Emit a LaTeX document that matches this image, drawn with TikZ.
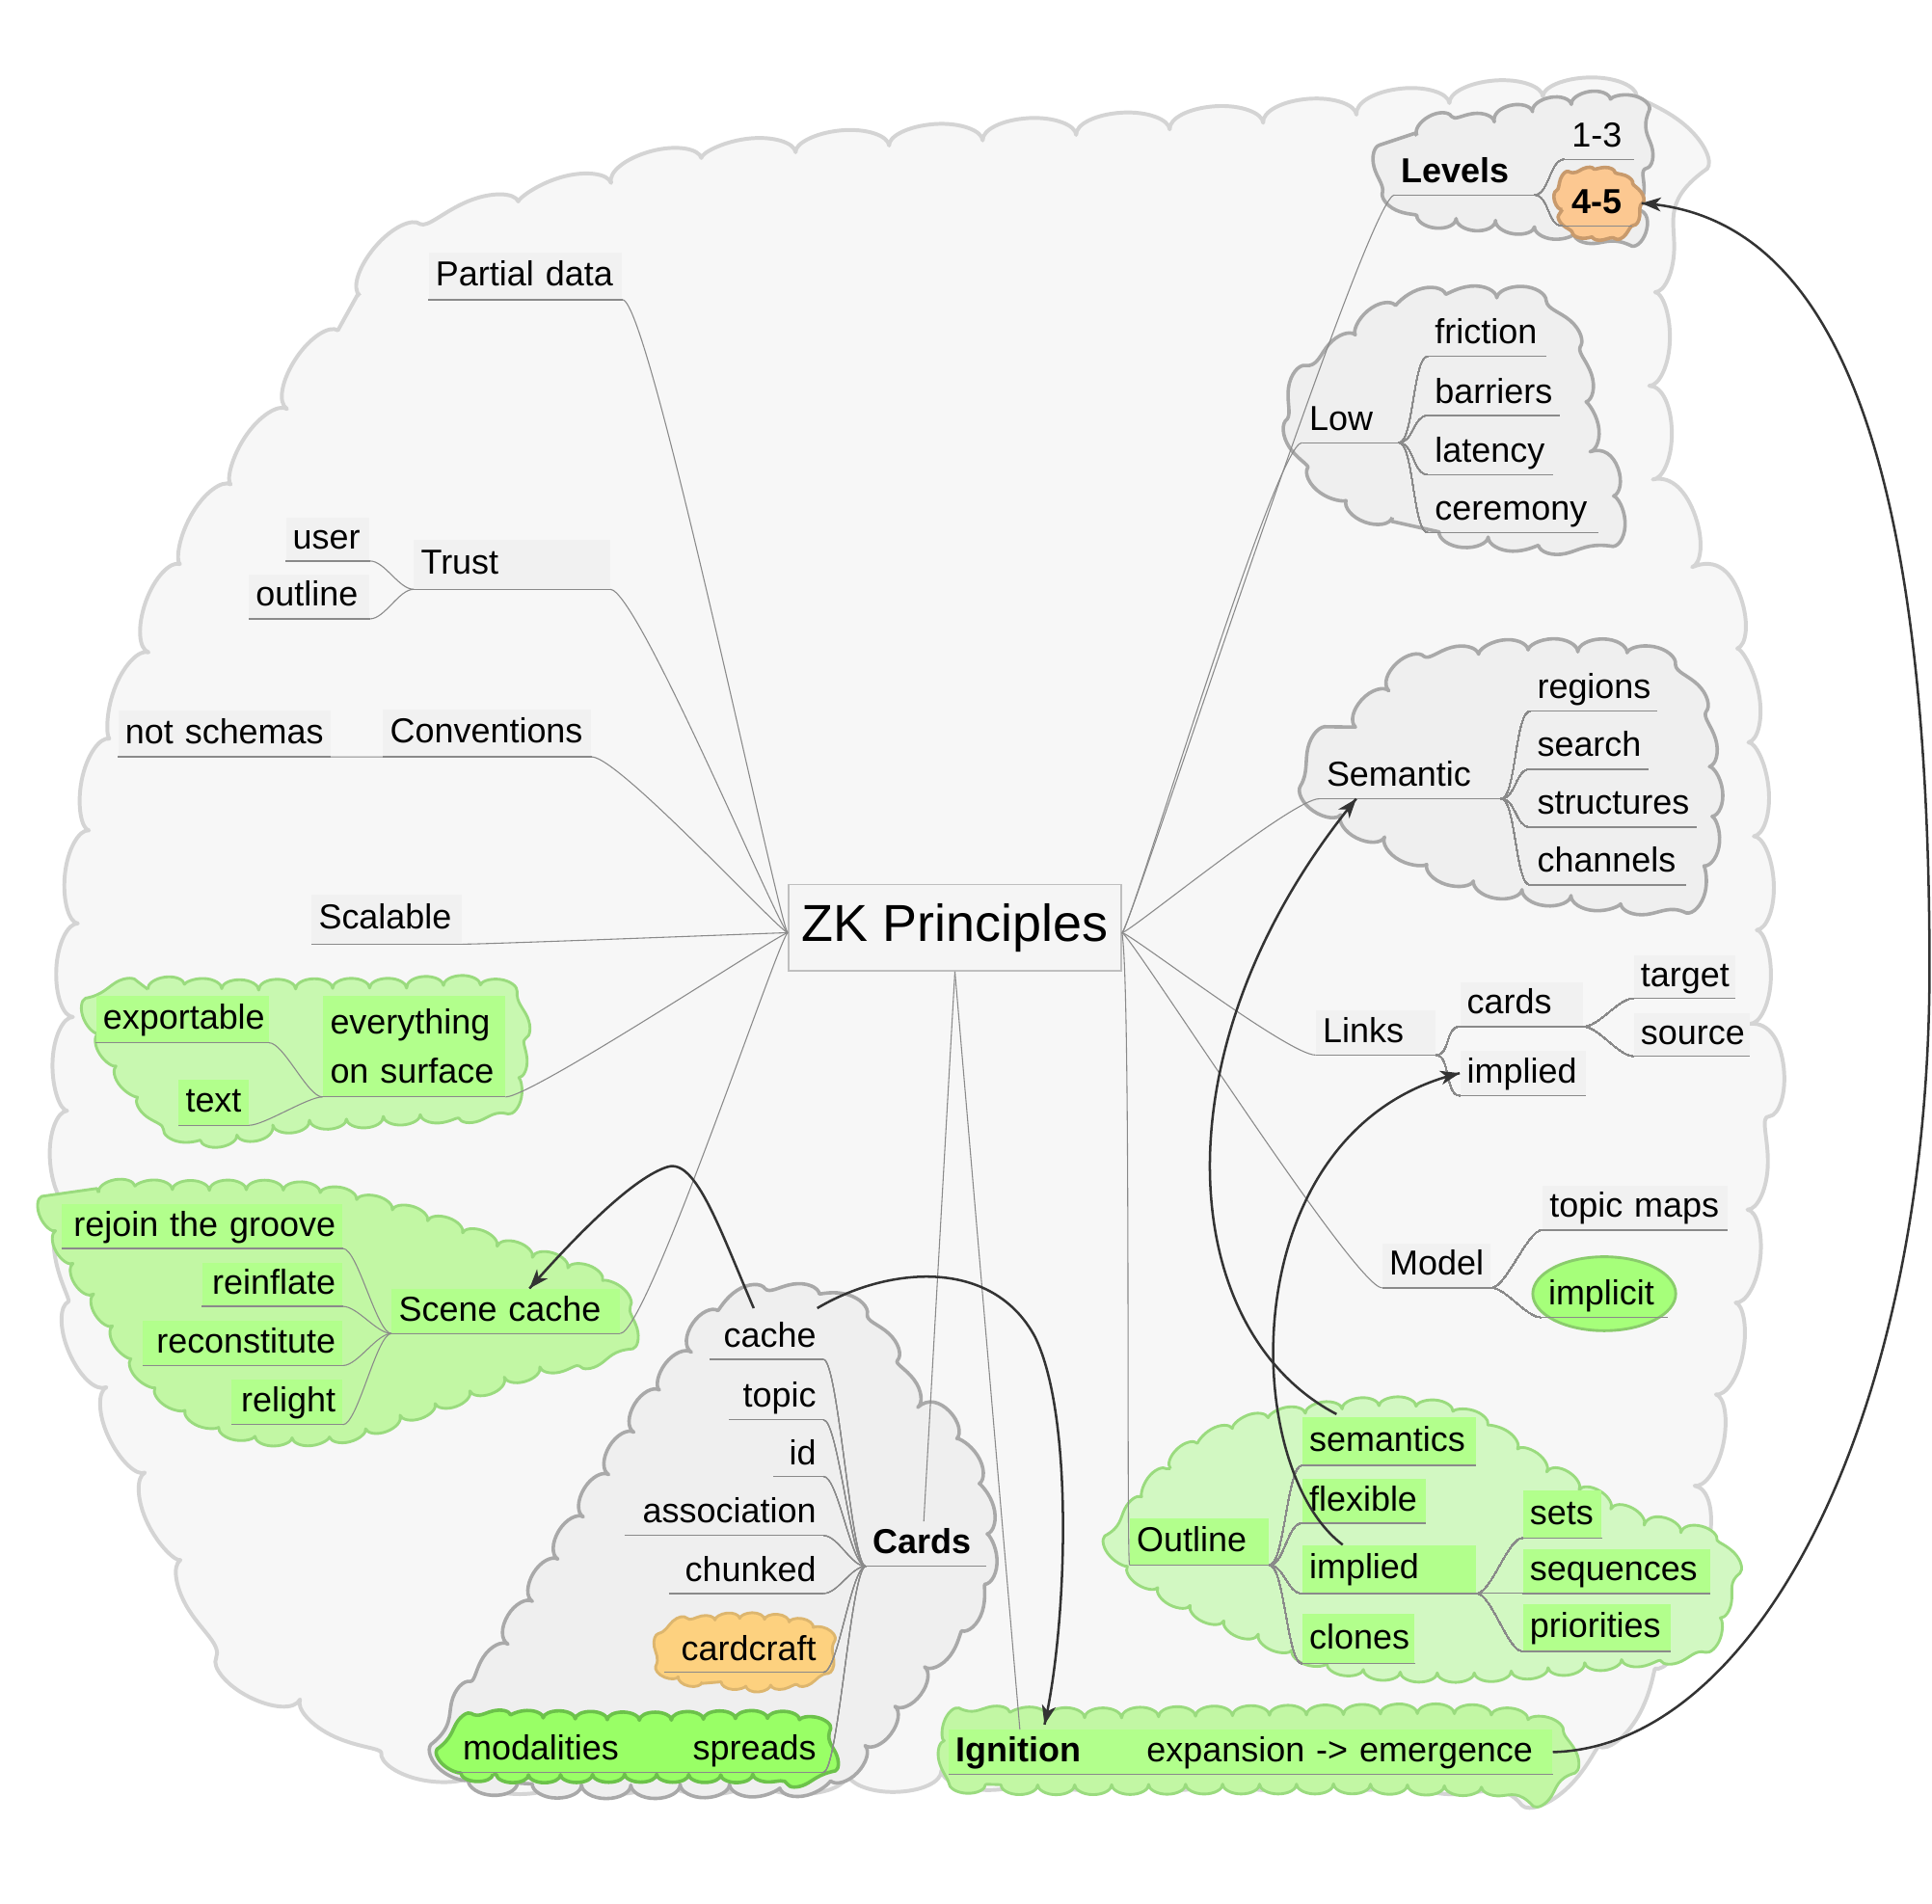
\documentclass[tikz,border=0pt]{standalone}
\usepackage{fontspec}
\setmainfont{Liberation Sans}
\usetikzlibrary{decorations.pathmorphing,calc}
\definecolor{cbigf}{HTML}{F7F7F7}
\definecolor{cbigd}{HTML}{D4D4D4}
\definecolor{cgreyf}{HTML}{EFEFEF}
\definecolor{cgreyd}{HTML}{A9A9A9}
\definecolor{cgreenf}{HTML}{C8F8B0}
\definecolor{cgreend}{HTML}{9ADB7E}
\definecolor{cscf}{HTML}{C2F7A4}
\definecolor{coutf}{HTML}{D2F8C2}
\definecolor{cmodf}{HTML}{99FF66}
\definecolor{cmodd}{HTML}{6CC24A}
\definecolor{cboxg}{HTML}{B2FF8C}
\definecolor{cboxgrey}{HTML}{F1F1F1}
\definecolor{corf}{HTML}{FCC891}
\definecolor{cord}{HTML}{C89A6C}
\definecolor{ccraftf}{HTML}{FDD17F}
\definecolor{ccraftd}{HTML}{DDB66E}
\definecolor{cline}{HTML}{8A8A8A}
\definecolor{carrow}{HTML}{333333}
\definecolor{cimpf}{HTML}{A6FF7A}
\definecolor{cimpd}{HTML}{8ACC6C}
\newcommand\fs{\fontsize{20}{24}\selectfont}
\tikzset{
  mmbox/.style={font=\fs, inner xsep=4pt, inner ysep=0pt, text height=14.5pt, text depth=3pt, fill=cboxgrey},
  nofill/.style={fill=none},
  gbox/.style={fill=cboxg},
  boldtxt/.style={font=\fs\bfseries},
  uline/.style={draw=cline, line width=0.7pt},
  conn/.style={draw=cline, line width=0.6pt},
  relline/.style={draw=carrow, line width=1.4pt},
  bigcloud/.style={fill=cbigf, draw=cbigd, line width=2.2pt, line join=round, decorate, decoration={bumps, segment length=3.8cm, amplitude=0.4cm}},
  greycloud/.style={fill=cgreyf, draw=cgreyd, line width=2pt, line join=round, decorate, decoration={bumps, segment length=2cm, amplitude=0.28cm}},
  greencloud/.style={fill=cgreenf, draw=cgreend, line width=1.6pt, line join=round, decorate, decoration={bumps, segment length=1.5cm, amplitude=0.2cm}},
}
\newcommand\mm[8][]{%
  \pgfmathsetmacro\mmw{(#5-#3)*0.025}%
  \pgfmathsetmacro\mmh{(#6-#4)*0.025}%
  \pgfmathsetmacro\mmtw{(#5-#3)*0.025*28.45274-8}%
  \node[mmbox, minimum width=\mmw cm, minimum height=\mmh cm, text width=\mmtw pt, align=#7, #1] (#2) at ({(#3+#5)/2},{(#4+#6)/2}) {\mbox{#8}};
  \draw[uline] (#2.south west) -- (#2.south east);
}
\newcommand\sig[2]{\draw[conn] (#1) .. controls +(12,0) and +(-12,0) .. (#2);}
\newcommand\sigl[2]{\draw[conn] (#1) .. controls +(-12,0) and +(12,0) .. (#2);}
% arrow tip: #1 = last control point, #2 = end point
\newcommand\tipat[2]{%
  \path (#1) coordinate (tipA) (#2) coordinate (tipB);
  \pgfmathanglebetweenpoints{\pgfpointanchor{tipA}{center}}{\pgfpointanchor{tipB}{center}}%
  \edef\tipang{\pgfmathresult}%
  \fill[carrow] (tipB) -- ($(tipB)+(\tipang+160:12pt)$) -- ($(tipB)+(\tipang+180:8pt)$) -- ($(tipB)+(\tipang+200:12pt)$) -- cycle;
}
\begin{document}
\begin{tikzpicture}[x=0.025cm, y=-0.025cm]
\useasboundingbox (0,0) rectangle (1568,1545);
\fill[white] (0,0) rectangle (1568,1545);
% big background cloud
\path[bigcloud] plot[smooth cycle, tension=0.6] coordinates {(250,305) (292,240) (340,198) (430,168) (530,140) (640,126) (770,116) (900,108) (1040,98) (1180,84) (1280,80) (1330,92) (1342,150) (1340,260) (1346,380) (1384,450) (1410,560) (1422,690) (1422,790) (1428,840) (1420,890) (1418,970) (1405,1060) (1385,1160) (1368,1260) (1343,1335) (1296,1405) (1240,1436) (1100,1437) (950,1437) (800,1437) (650,1440) (500,1440) (385,1436) (300,1405) (212,1360) (162,1285) (122,1200) (76,1100) (60,1000) (58,900) (64,760) (80,650) (110,560) (145,470) (198,385)};
% grey clouds
\path[greycloud, decoration={bumps, segment length=1.6cm, amplitude=0.22cm}] plot[smooth cycle, tension=0.6] coordinates {(1128,140) (1150,110) (1200,100) (1260,88) (1310,84) (1328,108) (1326,140) (1332,165) (1318,186) (1270,186) (1220,180) (1170,176) (1136,160)};
\path[greycloud] plot[smooth cycle, tension=0.6] coordinates {(1200,434) (1130,420) (1080,390) (1054,340) (1080,295) (1130,255) (1190,244) (1240,248) (1272,282) (1283,332) (1298,372) (1306,410) (1288,434)};
\path[greycloud] plot[smooth cycle, tension=0.6] coordinates {(1068,628) (1100,590) (1140,550) (1200,534) (1260,530) (1328,534) (1366,562) (1382,610) (1386,660) (1378,700) (1366,726) (1300,728) (1200,714) (1130,682) (1082,655)};
\path[greycloud] plot[smooth cycle, tension=0.6] coordinates {(560,1448) (420,1447) (378,1438) (374,1400) (402,1350) (432,1300) (462,1250) (492,1200) (522,1150) (550,1112) (572,1082) (600,1062) (660,1055) (700,1078) (722,1112) (760,1152) (788,1200) (797,1258) (786,1302) (758,1342) (728,1382) (700,1418) (668,1442)};
% green clouds
\path[greencloud] plot[smooth cycle, tension=0.6] coordinates {(78,820) (120,803) (200,803) (300,802) (400,803) (418,840) (408,893) (330,905) (250,910) (180,922) (140,912) (100,870)};
\path[greencloud, fill=cscf] plot[smooth cycle, tension=0.6] coordinates {(46,985) (80,968) (150,966) (250,968) (330,986) (400,1010) (450,1026) (488,1042) (506,1070) (492,1094) (430,1112) (350,1140) (280,1162) (200,1162) (132,1128) (82,1060) (52,1010)};
\path[greencloud, fill=coutf] plot[smooth cycle, tension=0.6] coordinates {(912,1245) (950,1192) (1000,1162) (1060,1148) (1130,1142) (1190,1152) (1250,1190) (1320,1230) (1388,1252) (1398,1290) (1378,1333) (1300,1348) (1200,1357) (1100,1353) (1030,1330) (962,1300) (918,1270)};
\path[greencloud, fill=cscf] plot[smooth cycle, tension=0.6] coordinates {(1000,1448) (800,1448) (772,1440) (767,1420) (792,1396) (900,1394) (1050,1392) (1200,1392) (1260,1406) (1263,1430) (1240,1448) (1100,1448)};
\path[greencloud, fill=cmodf, draw=cmodd, line width=2pt, decoration={bumps, segment length=1.3cm, amplitude=0.16cm}] plot[smooth cycle, tension=0.6] coordinates {(520,1440) (400,1440) (372,1434) (370,1412) (400,1396) (520,1396) (640,1396) (666,1412) (664,1436) (620,1440)};
\path[greencloud, fill=ccraftf, draw=ccraftd, decoration={bumps, segment length=1.0cm, amplitude=0.14cm}] plot[smooth cycle, tension=0.6] coordinates {(600,1366) (570,1365) (542,1354) (542,1327) (580,1316) (630,1316) (666,1327) (666,1354) (630,1366)};
\path[greencloud, fill=corf, draw=cord, line width=2pt, decoration={bumps, segment length=0.8cm, amplitude=0.1cm}] plot[smooth cycle, tension=0.6] coordinates {(1282,188) (1268,170) (1270,150) (1295,140) (1322,150) (1327,170) (1313,188)};
\fill[cimpf, draw=cimpd, line width=1.6pt] (1302,1050) ellipse [x radius=1.45cm, y radius=0.75cm];
% central node
\node[draw=black!25, fill=black!4, line width=0.8pt, minimum width=6.75cm, minimum height=1.75cm, font=\fontsize{30}{36}\selectfont] (zk) at (775,753) {ZK Principles};
% left side nodes
\mm{pd}{348}{205}{505}{243}{left}{Partial data}
\mm{trust}{336}{438}{495}{478}{left}{Trust}
\mm{user}{232}{420}{300}{455}{left}{user}
\mm{outl1}{202}{466}{300}{502}{left}{outline}
\mm{conv}{311}{576}{480}{614}{left}{Conventions}
\mm{nots}{96}{577}{268}{614}{left}{not schemas}
\mm{scal}{253}{726}{375}{766}{left}{Scalable}
\node[mmbox, gbox, minimum width=3.7cm, minimum height=2.05cm, text width=3.4cm, align=left, text height=, text depth=, font=\fontsize{20}{28.5}\selectfont] (eos) at (336,849) {everything\\on surface};
\draw[uline] (eos.south west) -- (eos.south east);
\mm[gbox]{exp}{78}{808}{218}{846}{left}{exportable}
\mm[gbox]{txt}{145}{876}{202}{913}{left}{text}
\mm[gbox]{sc}{318}{1046}{503}{1082}{left}{Scene cache}
\mm[gbox]{rtg}{50}{977}{278}{1013}{right}{rejoin the groove}
\mm[gbox]{reinf}{164}{1025}{278}{1060}{right}{reinflate}
\mm[gbox]{recon}{116}{1072}{278}{1108}{right}{reconstitute}
\mm[gbox]{relight}{188}{1120}{278}{1156}{right}{relight}
% cards
\mm[nofill,boldtxt]{cards}{703}{1235}{800}{1271}{left}{Cards}
\mm[nofill]{cache}{576}{1068}{668}{1103}{right}{cache}
\mm[nofill]{topic}{592}{1116}{668}{1152}{right}{topic}
\mm[nofill]{cid}{628}{1163}{668}{1198}{right}{id}
\mm[nofill]{assoc}{507}{1210}{668}{1246}{right}{association}
\mm[nofill]{chunk}{543}{1258}{668}{1293}{right}{chunked}
\mm[nofill]{craft}{539}{1322}{668}{1357}{right}{cardcraft}
\mm[nofill]{spreads}{520}{1402}{668}{1438}{right}{spreads}
\mm[nofill]{modal}{370}{1402}{520}{1438}{left}{modalities}
% ignition
\mm[gbox,boldtxt]{ign}{770}{1404}{925}{1440}{left}{Ignition}
\mm[gbox]{expem}{925}{1404}{1260}{1440}{left}{expansion -> emergence}
% right side
\mm[nofill,boldtxt]{levels}{1132}{122}{1245}{158}{left}{Levels}
\mm[nofill]{lta}{1270}{93}{1326}{129}{left}{1-3}
\mm[nofill,boldtxt]{ltb}{1268}{147}{1324}{183}{center}{4-5}
\mm[nofill]{low}{1057}{323}{1135}{359}{left}{Low}
\mm[nofill]{fric}{1159}{253}{1255}{289}{left}{friction}
\mm[nofill]{barr}{1159}{301}{1266}{337}{left}{barriers}
\mm[nofill]{lat}{1159}{349}{1260}{385}{left}{latency}
\mm[nofill]{cer}{1159}{396}{1297}{432}{left}{ceremony}
\mm[nofill]{sem}{1071}{612}{1218}{648}{left}{Semantic}
\mm[nofill]{reg}{1242}{541}{1345}{577}{left}{regions}
\mm[nofill]{search}{1242}{588}{1338}{624}{left}{search}
\mm[nofill]{struct}{1242}{635}{1377}{671}{left}{structures}
\mm[nofill]{chan}{1242}{682}{1368}{718}{left}{channels}
\mm{links}{1068}{820}{1165}{856}{left}{Links}
\mm{lcards}{1185}{797}{1285}{833}{left}{cards}
\mm{limpl}{1185}{853}{1287}{889}{left}{implied}
\mm{target}{1326}{775}{1408}{810}{left}{target}
\mm{source}{1326}{822}{1420}{857}{left}{source}
\mm{model}{1122}{1009}{1210}{1045}{left}{Model}
\mm{tmaps}{1252}{962}{1402}{998}{left}{topic maps}
\mm[nofill]{implicit}{1251}{1033}{1353}{1069}{left}{implicit}
\mm[gbox]{outl}{917}{1232}{1030}{1270}{left}{Outline}
\mm[gbox]{osem}{1057}{1150}{1198}{1189}{left}{semantics}
\mm[gbox]{oflex}{1057}{1200}{1157}{1236}{left}{flexible}
\mm[gbox]{oimpl}{1057}{1254}{1198}{1293}{left}{implied}
\mm[gbox]{oclon}{1057}{1310}{1148}{1350}{left}{clones}
\mm[gbox]{osets}{1236}{1210}{1300}{1248}{left}{sets}
\mm[gbox]{oseq}{1236}{1257}{1388}{1293}{left}{sequences}
\mm[gbox]{oprio}{1236}{1302}{1356}{1340}{left}{priorities}
% connectors from centre
\coordinate (zkL) at ($(zk.west)+(0,4)$);
\coordinate (zkR) at ($(zk.east)+(0,4)$);
\foreach \n in {pd,trust,conv,scal,eos,sc}
  \draw[conn] (zkL) .. controls +(-6,0) and +(22,0) .. (\n.south east);
\foreach \n in {levels,low,sem,links,model}
  \draw[conn] (zkR) .. controls +(6,0) and +(-22,0) .. (\n.south west);
\draw[conn] (zkR) .. controls (918,800) and (914,1262) .. (outl.south west);
\draw[conn] (zk.south) -- ($(cards.north west)+(47,0)$);
\draw[conn] (zk.south) -- ($(ign.north west)+(58,0)$);
% child connectors
\sigl{trust.south west}{user.south east}
\sigl{trust.south west}{outl1.south east}
\sigl{conv.south west}{nots.south east}
\sigl{eos.south west}{exp.south east}
\sigl{eos.south west}{txt.south east}
\foreach \n in {rtg,reinf,recon,relight} \sigl{sc.south west}{\n.south east}
\foreach \n in {cache,topic,cid,assoc,chunk,craft,spreads} \sigl{cards.south west}{\n.south east}
\sigl{spreads.south west}{modal.south east}
\sig{levels.south east}{lta.south west}
\sig{levels.south east}{ltb.south west}
\foreach \n in {fric,barr,lat,cer} \sig{low.south east}{\n.south west}
\foreach \n in {reg,search,struct,chan} \sig{sem.south east}{\n.south west}
\sig{links.south east}{lcards.south west}
\sig{links.south east}{limpl.south west}
\sig{lcards.south east}{target.south west}
\sig{lcards.south east}{source.south west}
\sig{model.south east}{tmaps.south west}
\sig{model.south east}{implicit.south west}
\foreach \n in {osem,oflex,oimpl,oclon} \sig{outl.south east}{\n.south west}
\foreach \n in {osets,oseq,oprio} \sig{oimpl.south east}{\n.south west}
% relation arrows
\coordinate (a1s) at ($(cache.north west)+(36,-6)$);
\coordinate (a1e) at ($(sc.north west)+(112,0)$);
\draw[relline] (a1s) .. controls (585,1000) and (565,940) .. (542,947) .. controls (515,955) and (470,1000) .. (a1e);
\tipat{470,1000}{a1e}
\coordinate (a2s) at ($(cache.north east)+(-5,-6)$);
\coordinate (a2e) at ($(ign.north west)+(78,-4)$);
\draw[relline] (a2s) .. controls (720,1028) and (805,1020) .. (840,1085) .. controls (872,1150) and (866,1320) .. (a2e);
\tipat{866,1320}{a2e}
\coordinate (a3s) at ($(osem.north west)+(28,-2)$);
\coordinate (a3e) at ($(sem.south west)+(30,0)$);
\draw[relline] (a3s) .. controls (955,1080) and (935,850) .. (a3e);
\tipat{935,850}{a3e}
\coordinate (a4s) at ($(oimpl.north west)+(33,0)$);
\coordinate (a4e) at (limpl.west);
\draw[relline] (a4s) .. controls (1005,1190) and (1000,915) .. (a4e);
\tipat{1000,915}{a4e}
\coordinate (a5e) at ($(ltb.east)+(8,0)$);
\draw[relline] (expem.east) .. controls (1425,1418) and (1567,1150) .. (1566,780) .. controls (1565,400) and (1500,175) .. (a5e);
\tipat{1500,175}{a5e}
\end{tikzpicture}
\end{document}
